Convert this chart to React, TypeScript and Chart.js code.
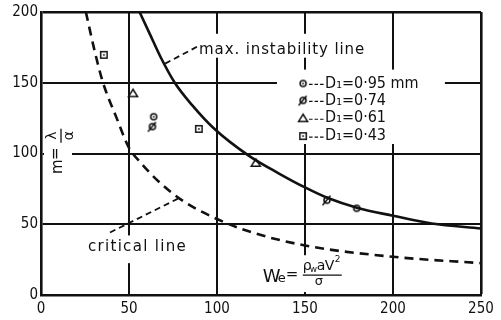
import React, { useEffect, useRef } from "react";
import { Chart, registerables } from "chart.js";

Chart.register(...registerables);

// ---- data ----
const xTicks = [0, 50, 100, 150, 200, 250];
const yTicks = [0, 50, 100, 150, 200];

// max. instability line (solid)
const maxInstX = [56, 62, 68, 76, 86, 98, 118, 135, 150, 163, 180, 200, 222, 250];
const maxInstY = [200, 184, 168, 150, 134, 118, 98.5, 86, 76, 68.5, 61.5, 56, 50.5, 47];

// critical line (dashed)
const criticalX = [25.5, 30, 35, 43, 50, 57, 67, 80, 96, 118, 150, 200, 250];
const criticalY = [200, 175, 151, 125, 104, 93, 80, 67, 56, 45, 35, 27, 22.5];

// measured points, one series per nozzle diameter
const diameterLabels = ["0·95 mm", "0·74", "0·61", "0·43"];
const d095X = [64, 179.4];
const d095Y = [126, 61.3];
const d074X = [63.3, 162.5];
const d074Y = [119, 67];
const d061X = [52.3, 122];
const d061Y = [142.5, 93.3];
const d043X = [35.7, 89.7];
const d043Y = [169.7, 117.4];

const INK = "#111";
const COND = "'DejaVu Sans Condensed', 'DejaVu Sans', sans-serif";
const SANS = "'DejaVu Sans', sans-serif";

function makeMarker(kind: string): HTMLCanvasElement {
  const c = document.createElement("canvas");
  c.width = 14;
  c.height = 14;
  const g = c.getContext("2d")!;
  const m = 7;
  g.strokeStyle = INK;
  g.fillStyle = "#fff";
  g.lineWidth = 1.5;
  if (kind === "dot" || kind === "slash") {
    g.beginPath();
    g.arc(m, m, 3, 0, Math.PI * 2);
    g.fill();
    g.stroke();
    if (kind === "dot") {
      g.fillStyle = INK;
      g.fillRect(m - 0.8, m - 0.8, 1.6, 1.6);
    } else {
      g.beginPath();
      g.moveTo(m - 4.5, m + 5);
      g.lineTo(m + 3.5, m - 4.5);
      g.stroke();
    }
  } else if (kind === "tri") {
    g.beginPath();
    g.moveTo(m, m - 4);
    g.lineTo(m + 4.5, m + 3.2);
    g.lineTo(m - 4.5, m + 3.2);
    g.closePath();
    g.fill();
    g.stroke();
  } else {
    g.beginPath();
    g.rect(m - 3.2, m - 3.2, 6.4, 6.4);
    g.fill();
    g.stroke();
    g.fillStyle = INK;
    g.fillRect(m - 0.8, m - 0.8, 1.6, 1.6);
  }
  return c;
}

function fitText(ctx: CanvasRenderingContext2D, text: string, x: number, y: number, width: number) {
  (ctx as any).letterSpacing = "0px";
  const w = ctx.measureText(text).width;
  const sp = (width - w) / Math.max(1, text.length);
  (ctx as any).letterSpacing = sp.toFixed(2) + "px";
  ctx.fillText(text, x, y);
  (ctx as any).letterSpacing = "0px";
}

export default function App() {
  const ref = useRef<HTMLCanvasElement>(null);

  useEffect(() => {
    document.body.style.margin = "0";
    const canvas = ref.current!;
    const markers = [makeMarker("dot"), makeMarker("slash"), makeMarker("tri"), makeMarker("sq")];
    const pts = (xs: number[], ys: number[]) => xs.map((x, i) => ({ x, y: ys[i] }));

    const annot = {
      id: "annot",
      beforeDatasetsDraw(chart: any) {
        const { ctx, scales } = chart;
        const X = (v: number) => scales.x.getPixelForValue(v);
        const Y = (v: number) => scales.y.getPixelForValue(v);
        // white patches where the printed labels interrupt the grid
        const boxes = [
          [134.1, 229.5, 159.3, 106.7],
          [88.6, 185.8, 184.6, 167.7],
          [25, 85.8, 42.1, 22.5],
          [1.7, 17.6, 120, 82.1],
          [123.3, 173.3, 28.1, 2.1],
        ];
        ctx.save();
        ctx.fillStyle = "#fff";
        for (const [x1, x2, y1, y2] of boxes) {
          ctx.fillRect(X(x1), Y(y1), X(x2) - X(x1), Y(y2) - Y(y1));
        }
        ctx.restore();
      },
      afterDatasetsDraw(chart: any) {
        const { ctx, scales } = chart;
        const X = (v: number) => scales.x.getPixelForValue(v);
        const Y = (v: number) => scales.y.getPixelForValue(v);
        ctx.save();
        ctx.fillStyle = INK;
        ctx.strokeStyle = INK;

        // leader lines
        ctx.lineWidth = 1.8;
        ctx.setLineDash([6, 4]);
        ctx.beginPath();
        ctx.moveTo(X(88.6), Y(175.4));
        ctx.lineTo(X(70.5), Y(163.5));
        ctx.moveTo(X(39.2), Y(44.2));
        ctx.lineTo(X(79), Y(68.8));
        ctx.stroke();
        ctx.setLineDash([]);

        // curve labels
        ctx.textBaseline = "alphabetic";
        ctx.textAlign = "left";
        ctx.font = `15px ${SANS}`;
        fitText(ctx, "max. instability line", X(89.8), Y(170.5), 166);
        fitText(ctx, "critical line", X(26.7), Y(30.9), 99);

        // legend
        const lx = X(148.9);
        const rows = [149.5, 137.5, 124.9, 112.3];
        ctx.font = `16px ${COND}`;
        ctx.textBaseline = "middle";
        rows.forEach((ry, i) => {
          const cy = Y(ry);
          ctx.drawImage(markers[i], lx - 7, cy - 7);
          ctx.lineWidth = 1.2;
          ctx.beginPath();
          for (let k = 0; k < 3; k++) {
            ctx.moveTo(lx + 6 + k * 5.5, cy + 1);
            ctx.lineTo(lx + 9.5 + k * 5.5, cy + 1);
          }
          ctx.stroke();
          ctx.fillText("D\u2081=" + diameterLabels[i], lx + 22, cy);
        });

        // y-axis title  m = λ/α (rotated)
        ctx.save();
        ctx.translate(X(10.8), Y(102));
        ctx.rotate(-Math.PI / 2);
        ctx.textAlign = "center";
        ctx.textBaseline = "middle";
        ctx.font = `15px ${SANS}`;
        ctx.fillText("m", -16, -2);
        ctx.fillText("=", -3, -4);
        ctx.font = `14px ${SANS}`;
        ctx.fillText("λ", 15, -8);
        ctx.fillText("α", 15, 9);
        ctx.lineWidth = 1.3;
        ctx.beginPath();
        ctx.moveTo(8, 1);
        ctx.lineTo(22, 1);
        ctx.stroke();
        ctx.restore();

        // x-axis title  We = ρw a V² / σ
        const fx = X(126);
        const fy = Y(9.1);
        ctx.textAlign = "left";
        ctx.textBaseline = "alphabetic";
        ctx.font = `18px ${SANS}`;
        ctx.fillText("W", fx, fy);
        ctx.font = `13px ${SANS}`;
        ctx.fillText("e", fx + 15, fy);
        ctx.font = `15px ${SANS}`;
        ctx.fillText("=", fx + 23, fy - 3);
        ctx.font = `14px ${SANS}`;
        ctx.fillText("ρ", fx + 40, fy - 12);
        ctx.font = `9px ${SANS}`;
        ctx.fillText("w", fx + 47, fy - 10);
        ctx.font = `14px ${SANS}`;
        ctx.fillText("a", fx + 54, fy - 12);
        ctx.fillText("V", fx + 62, fy - 12);
        ctx.font = `9px ${SANS}`;
        ctx.fillText("2", fx + 72, fy - 20);
        ctx.font = `13px ${SANS}`;
        ctx.fillText("σ", fx + 52, fy + 3);
        ctx.lineWidth = 1.2;
        ctx.beginPath();
        ctx.moveTo(fx + 40, fy - 7);
        ctx.lineTo(fx + 79, fy - 7);
        ctx.stroke();

        ctx.restore();
      },
    };

    const pointSet = (xs: number[], ys: number[], i: number) => ({
      data: pts(xs, ys),
      showLine: false,
      pointStyle: markers[i],
      pointRadius: 5,
    });

    const chart = new Chart(canvas, {
      type: "scatter",
      data: {
        datasets: [
          {
            data: pts(maxInstX, maxInstY),
            showLine: true,
            borderColor: INK,
            borderWidth: 2.6,
            pointRadius: 0,
            cubicInterpolationMode: "monotone",
          } as any,
          {
            data: pts(criticalX, criticalY),
            showLine: true,
            borderColor: INK,
            borderWidth: 2.6,
            borderDash: [9, 6],
            pointRadius: 0,
            cubicInterpolationMode: "monotone",
          } as any,
          pointSet(d095X, d095Y, 0) as any,
          pointSet(d074X, d074Y, 1) as any,
          pointSet(d061X, d061Y, 2) as any,
          pointSet(d043X, d043Y, 3) as any,
        ],
      },
      options: {
        responsive: false,
        animation: false,
        devicePixelRatio: 1,
        layout: { padding: { left: 0, top: 10, right: 20, bottom: 0 } },
        plugins: { legend: { display: false }, tooltip: { enabled: false } },
        scales: {
          x: {
            type: "linear",
            min: xTicks[0],
            max: xTicks[xTicks.length - 1],
            afterBuildTicks: (s: any) => {
              s.ticks = xTicks.map((v) => ({ value: v }));
            },
            afterFit: (s: any) => {
              s.height = 25;
            },
            grid: {
              color: INK,
              lineWidth: (c: any) => (c.index === xTicks.length - 1 ? 2.6 : 2),
              drawTicks: false,
            },
            border: { display: true, color: INK, width: 2.6 },
            ticks: {
              padding: 5,
              color: INK,
              font: { family: COND, size: 15 },
              maxRotation: 0,
              callback: (v: any) => String(v),
            },
          },
          y: {
            type: "linear",
            min: yTicks[0],
            max: yTicks[yTicks.length - 1],
            afterBuildTicks: (s: any) => {
              s.ticks = yTicks.map((v) => ({ value: v }));
            },
            afterFit: (s: any) => {
              s.width = 41;
            },
            grid: {
              color: INK,
              lineWidth: (c: any) => (c.index === yTicks.length - 1 ? 2.6 : 2),
              drawTicks: false,
            },
            border: { display: true, color: INK, width: 2.6 },
            ticks: {
              padding: 3,
              color: INK,
              font: { family: COND, size: 15 },
              callback: (v: any) => String(v),
            },
          },
        },
      },
      plugins: [annot],
    });

    return () => chart.destroy();
  }, []);

  return <canvas ref={ref} width={501} height={320} style={{ display: "block" }} />;
}
